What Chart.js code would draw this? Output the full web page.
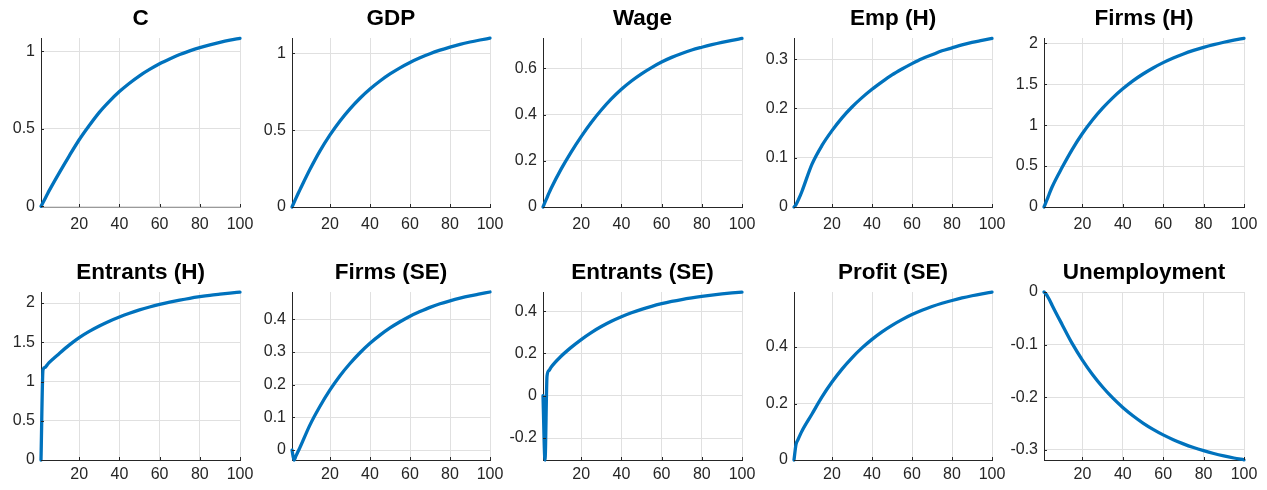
<!DOCTYPE html>
<html>
<head>
<meta charset="utf-8">
<script src="https://cdn.jsdelivr.net/npm/chart.js@4.4.1/dist/chart.umd.min.js"></script>
<style>
  html, body { margin: 0; padding: 0; background: #ffffff; }
  #grid { position: relative; width: 1267px; height: 490px; overflow: hidden; background: #ffffff; }
  #grid canvas { position: absolute; }
</style>
</head>
<body>
<div id="grid"></div>
<script>
// Horizon (periods) at which each response is recorded
const periods = [1, 2, 3, 4, 5, 10, 15, 20, 25, 30, 35, 40, 45, 50, 55, 60, 65, 70, 75, 80, 85, 90, 95, 100];
const xTickValues = [20, 40, 60, 80, 100];

// Impulse responses
const consumption  = [0, 0.025, 0.05, 0.075, 0.10, 0.215, 0.325, 0.43, 0.522, 0.607, 0.678, 0.741, 0.795, 0.843, 0.884, 0.921, 0.952, 0.980, 1.004, 1.025, 1.043, 1.059, 1.073, 1.085];
const gdp          = [0, 0.029, 0.058, 0.086, 0.113, 0.245, 0.365, 0.469, 0.560, 0.639, 0.708, 0.768, 0.820, 0.866, 0.906, 0.941, 0.971, 0.998, 1.021, 1.041, 1.059, 1.074, 1.087, 1.099];
const wage         = [0, 0.021, 0.041, 0.061, 0.080, 0.164, 0.238, 0.305, 0.366, 0.42, 0.468, 0.51, 0.546, 0.577, 0.604, 0.628, 0.648, 0.665, 0.68, 0.692, 0.703, 0.713, 0.722, 0.73];
const empH         = [0, 0.005, 0.013, 0.022, 0.032, 0.087, 0.125, 0.155, 0.181, 0.203, 0.222, 0.239, 0.254, 0.268, 0.280, 0.291, 0.301, 0.309, 0.317, 0.323, 0.329, 0.334, 0.338, 0.342];
const firmsH       = [0, 0.06, 0.12, 0.185, 0.245, 0.485, 0.705, 0.898, 1.063, 1.2075, 1.334, 1.444, 1.541, 1.625, 1.699, 1.764, 1.8205, 1.870, 1.913, 1.951, 1.984, 2.013, 2.038, 2.061];
const entrantsH    = [0, 1.15, 1.18, 1.21, 1.24, 1.355, 1.464, 1.56, 1.639, 1.708, 1.769, 1.823, 1.871, 1.913, 1.950, 1.983, 2.012, 2.038, 2.061, 2.081, 2.099, 2.114, 2.128, 2.14];
const firmsSE      = [0, -0.031, -0.018, -0.005, 0.008, 0.077, 0.134, 0.184, 0.2275, 0.265, 0.298, 0.327, 0.352, 0.374, 0.393, 0.410, 0.424, 0.437, 0.448, 0.457, 0.465, 0.472, 0.478, 0.484];
const entrantsSE   = [0, -0.304, 0.093, 0.12, 0.135, 0.187, 0.229, 0.266, 0.299, 0.3275, 0.3524, 0.374, 0.3927, 0.409, 0.4232, 0.4355, 0.4462, 0.4555, 0.4635, 0.4705, 0.4767, 0.482, 0.4865, 0.4905];
const profitSE     = [0, 0.055, 0.072, 0.088, 0.103, 0.163, 0.2235, 0.276, 0.322, 0.362, 0.397, 0.4273, 0.4539, 0.477, 0.4972, 0.515, 0.5303, 0.5435, 0.555, 0.565, 0.574, 0.5817, 0.5885, 0.5945];
const unemployment = [0, -0.004, -0.01, -0.017, -0.025, -0.0621, -0.0982, -0.1295, -0.1569, -0.1807, -0.2015, -0.2196, -0.2354, -0.2492, -0.2612, -0.2717, -0.2808, -0.2888, -0.2958, -0.3018, -0.3071, -0.3117, -0.3157, -0.3192];

// Panel titles and y tick labels
const titles = ['C', 'GDP', 'Wage', 'Emp (H)', 'Firms (H)',
                'Entrants (H)', 'Firms (SE)', 'Entrants (SE)', 'Profit (SE)', 'Unemployment'];
const series = [consumption, gdp, wage, empH, firmsH,
                entrantsH, firmsSE, entrantsSE, profitSE, unemployment];
const yTicks = [
  [0, 0.5, 1], [0, 0.5, 1], [0, 0.2, 0.4, 0.6], [0, 0.1, 0.2, 0.3], [0, 0.5, 1, 1.5, 2],
  [0, 0.5, 1, 1.5, 2], [0, 0.1, 0.2, 0.3, 0.4], [-0.2, 0, 0.2, 0.4], [0, 0.2, 0.4], [-0.3, -0.2, -0.1, 0]
];
const yRanges = [
  [-0.004, 1.087], [0, 1.10], [0, 0.732], [0, 0.343], [0, 2.065],
  [0, 2.141], [-0.0306, 0.484], [-0.304, 0.491], [0, 0.595], [-0.3195, 0]
];

// Subplot geometry (plot-area edges, in page pixels)
const colLeft  = [41, 292, 543, 794, 1044];
const colRight = [240, 490, 742, 992, 1244];
const rowTop    = [38, 292];
const rowBottom = [207, 460];
const rowLabelPad = [8, 5];

const Y_AXIS_W = 40, X_AXIS_H = 26, TITLE_H = 36, RIGHT_PAD = 26, TICK_LEN = 3;
const FONT = '"Liberation Sans", Arial, Helvetica, sans-serif';
const LINE = '#0072BD', AXIS = '#262626', GRID = '#e0e0e0';

// Short inward tick marks on the left and bottom axes
const innerTicks = {
  id: 'innerTicks',
  afterDatasetsDraw(chart) {
    const { ctx, chartArea: a, scales } = chart;
    ctx.save();
    ctx.strokeStyle = AXIS;
    ctx.lineWidth = 1;
    ctx.beginPath();
    scales.x.ticks.forEach(t => {
      const px = Math.round(scales.x.getPixelForValue(t.value)) + 0.5;
      ctx.moveTo(px, a.bottom);
      ctx.lineTo(px, a.bottom - TICK_LEN);
    });
    scales.y.ticks.forEach(t => {
      const py = Math.round(scales.y.getPixelForValue(t.value)) + 0.5;
      ctx.moveTo(a.left, py);
      ctx.lineTo(a.left + TICK_LEN, py);
    });
    ctx.stroke();
    ctx.restore();
  }
};

const host = document.getElementById('grid');

titles.forEach((title, k) => {
  const row = Math.floor(k / 5), col = k % 5;
  const plotW = colRight[col] - colLeft[col];
  const plotH = rowBottom[row] - rowTop[row];
  const w = Y_AXIS_W + plotW + RIGHT_PAD;
  const h = TITLE_H + plotH + X_AXIS_H;

  const cv = document.createElement('canvas');
  cv.width = w; cv.height = h;
  cv.style.width = w + 'px'; cv.style.height = h + 'px';
  cv.style.left = (colLeft[col] - Y_AXIS_W) + 'px';
  cv.style.top = (rowTop[row] - TITLE_H) + 'px';
  host.appendChild(cv);

  const values = series[k];
  const points = periods.map((p, i) => ({ x: p, y: values[i] }));
  const ticksY = yTicks[k];

  new Chart(cv.getContext('2d'), {
    type: 'line',
    data: {
      datasets: [{
        data: points,
        borderColor: LINE,
        borderWidth: 3.3,
        pointRadius: 0,
        fill: false,
        cubicInterpolationMode: 'monotone',
        borderCapStyle: 'round',
        borderJoinStyle: 'round',
        clip: 4
      }]
    },
    options: {
      responsive: false,
      animation: false,
      devicePixelRatio: 1,
      events: [],
      layout: { padding: { left: 0, right: RIGHT_PAD, top: 0, bottom: 0 } },
      plugins: {
        legend: { display: false },
        tooltip: { enabled: false },
        title: {
          display: true,
          text: title,
          fullSize: false,
          color: '#000000',
          font: { family: FONT, size: 22.5, weight: 'bold', lineHeight: '26px' },
          padding: { top: 4, bottom: 6 }
        }
      },
      scales: {
        x: {
          type: 'linear',
          min: 1,
          max: 100,
          afterBuildTicks: s => { s.ticks = xTickValues.map(v => ({ value: v })); },
          afterFit: s => { s.height = X_AXIS_H; },
          grid: { color: GRID, lineWidth: 1, drawTicks: false },
          border: { display: true, color: k === 0 ? '#9a9a9a' : AXIS, width: 1 },
          ticks: {
            color: AXIS,
            font: { family: FONT, size: 16 },
            padding: rowLabelPad[row],
            maxRotation: 0,
            autoSkip: false,
            callback: v => String(v)
          }
        },
        y: {
          type: 'linear',
          min: yRanges[k][0],
          max: yRanges[k][1],
          afterBuildTicks: s => { s.ticks = ticksY.map(v => ({ value: v })); },
          afterFit: s => { s.width = Y_AXIS_W; },
          grid: { color: GRID, lineWidth: 1, drawTicks: false },
          border: { display: true, color: AXIS, width: 1 },
          ticks: {
            color: AXIS,
            font: { family: FONT, size: 16 },
            padding: 6,
            autoSkip: false,
            callback: v => String(v)
          }
        }
      }
    },
    plugins: [innerTicks]
  });
});
</script>
</body>
</html>
